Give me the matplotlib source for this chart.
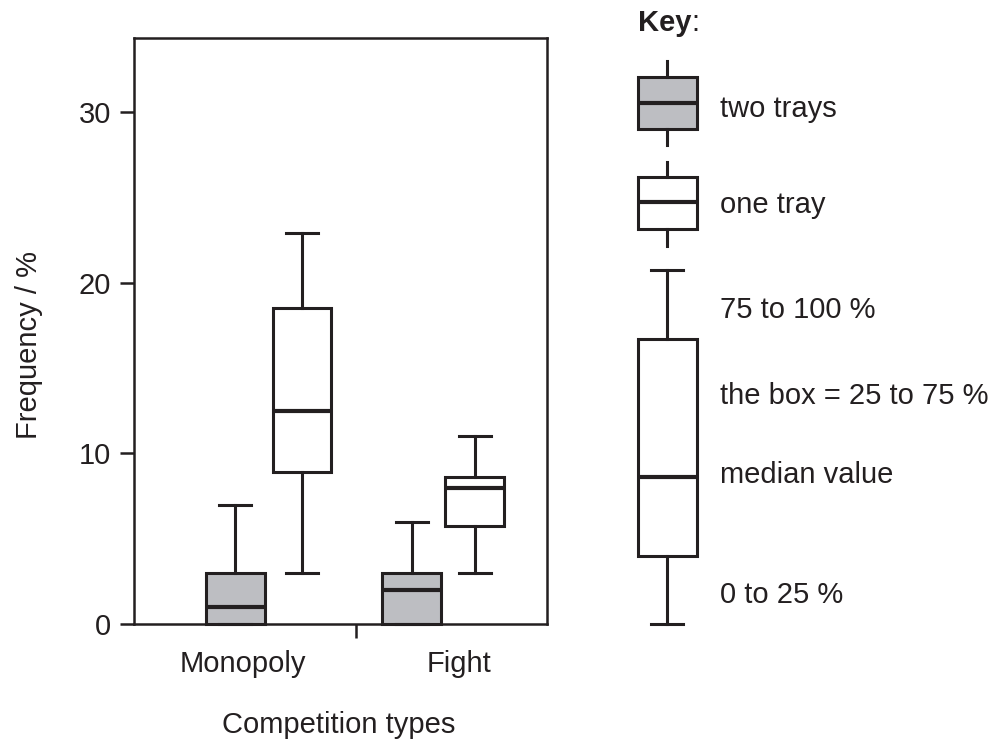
import matplotlib
matplotlib.use("Agg")
import matplotlib.pyplot as plt

plt.rcParams['font.family'] = ['Liberation Sans', 'DejaVu Sans']

INK = '#231f20'
GREY = '#bdbec2'

# Frequency (%) summaries per competition type
categories = ['Monopoly', 'Fight']

two_lo = [0, 0]
two_q1 = [0, 0]
two_med = [1, 2]
two_q3 = [3, 3]
two_hi = [7, 6]

one_lo = [3, 3]
one_q1 = [8.9, 5.75]
one_med = [12.5, 8.0]
one_q3 = [18.5, 8.6]
one_hi = [22.9, 11]

# illustrative boxes for the key (same y scale as the chart)
key_grey = dict(whislo=28.06, q1=29.0, med=30.52, q3=32.04, whishi=32.98)
key_white = dict(whislo=22.14, q1=23.14, med=24.72, q3=26.19, whishi=27.07)
key_big = dict(whislo=0, q1=3.98, med=8.61, q3=16.7, whishi=20.74)

key_labels = ['two trays', 'one tray', '75 to 100 %', 'the box = 25 to 75 %',
              'median value', '0 to 25 %']
key_label_y = [29.7, 24.08, 17.91, 12.87, 8.24, 1.25]

yticks = [0, 10, 20, 30]


def stats(lo, q1, med, q3, hi):
    return [dict(whislo=a, q1=b, med=c, q3=d, whishi=e, fliers=[])
            for a, b, c, d, e in zip(lo, q1, med, q3, hi)]


def draw_boxes(ax, st, pos, face, width, capw, caps=True):
    parts = ax.bxp(st, positions=pos, widths=width, capwidths=capw,
                   patch_artist=True, showcaps=caps, showfliers=False,
                   boxprops=dict(facecolor=face, edgecolor=INK, linewidth=2.2),
                   medianprops=dict(color=INK, linewidth=3.0,
                                    solid_capstyle='butt'),
                   whiskerprops=dict(color=INK, linewidth=2.2),
                   capprops=dict(color=INK, linewidth=2.2),
                   manage_ticks=False)
    for group in parts.values():
        for artist in group:
            artist.set_clip_on(False)


fig = plt.figure(figsize=(10, 7.42), dpi=100)
ax = fig.add_axes([0.1335, 0.159, 0.4135, 0.790])

draw_boxes(ax, stats(two_lo, two_q1, two_med, two_q3, two_hi),
           [0.986, 2.69], GREY, 0.57, 0.31)
draw_boxes(ax, stats(one_lo, one_q1, one_med, one_q3, one_hi),
           [1.63, 3.30], 'white', 0.57, 0.31)

ax.set_xlim(0, 4)
ax.set_ylim(0, 34.35)
for s in ax.spines.values():
    s.set_linewidth(1.8)
    s.set_color(INK)
    s.set_zorder(3)

ax.set_yticks(yticks)
ax.tick_params(axis='y', length=10, width=1.8, color=INK, labelsize=21,
               labelcolor=INK, pad=6)
ax.set_xticks([2.152], labels=[''])
ax.tick_params(axis='x', which='major', length=10, width=1.8, color=INK)
ax.set_xticks([1.059, 3.148], labels=categories, minor=True)
ax.tick_params(axis='x', which='minor', length=0, labelsize=21,
               labelcolor=INK, pad=19)

fig.text(0.339, 0.012, 'Competition types', ha='center', va='baseline',
         fontsize=21, color=INK)
fig.text(0.029, 0.535, 'Frequency / %', rotation=90, ha='center',
         va='center', fontsize=21, color=INK)

# key on the right
kax = fig.add_axes([0.6, 0.159, 0.4, 0.790])
kax.set_xlim(0, 400)
kax.set_ylim(0, 34.35)
kax.axis('off')

draw_boxes(kax, [dict(key_grey, fliers=[])], [67], GREY, 59, 32, caps=False)
draw_boxes(kax, [dict(key_white, fliers=[])], [67], 'white', 59, 32, caps=False)
draw_boxes(kax, [dict(key_big, fliers=[])], [67], 'white', 59, 32)

for lab, y in zip(key_labels, key_label_y):
    kax.text(120, y, lab, ha='left', va='baseline', fontsize=21, color=INK)

key = fig.text(0.638, 1 - 31 / 742, 'Key', ha='left', va='baseline',
               fontsize=21, fontweight='bold', color=INK)
kax.annotate(':', xy=(1, 0), xycoords=key, ha='left', va='bottom',
             fontsize=21, color=INK)

fig.savefig('out.png', dpi=100)
